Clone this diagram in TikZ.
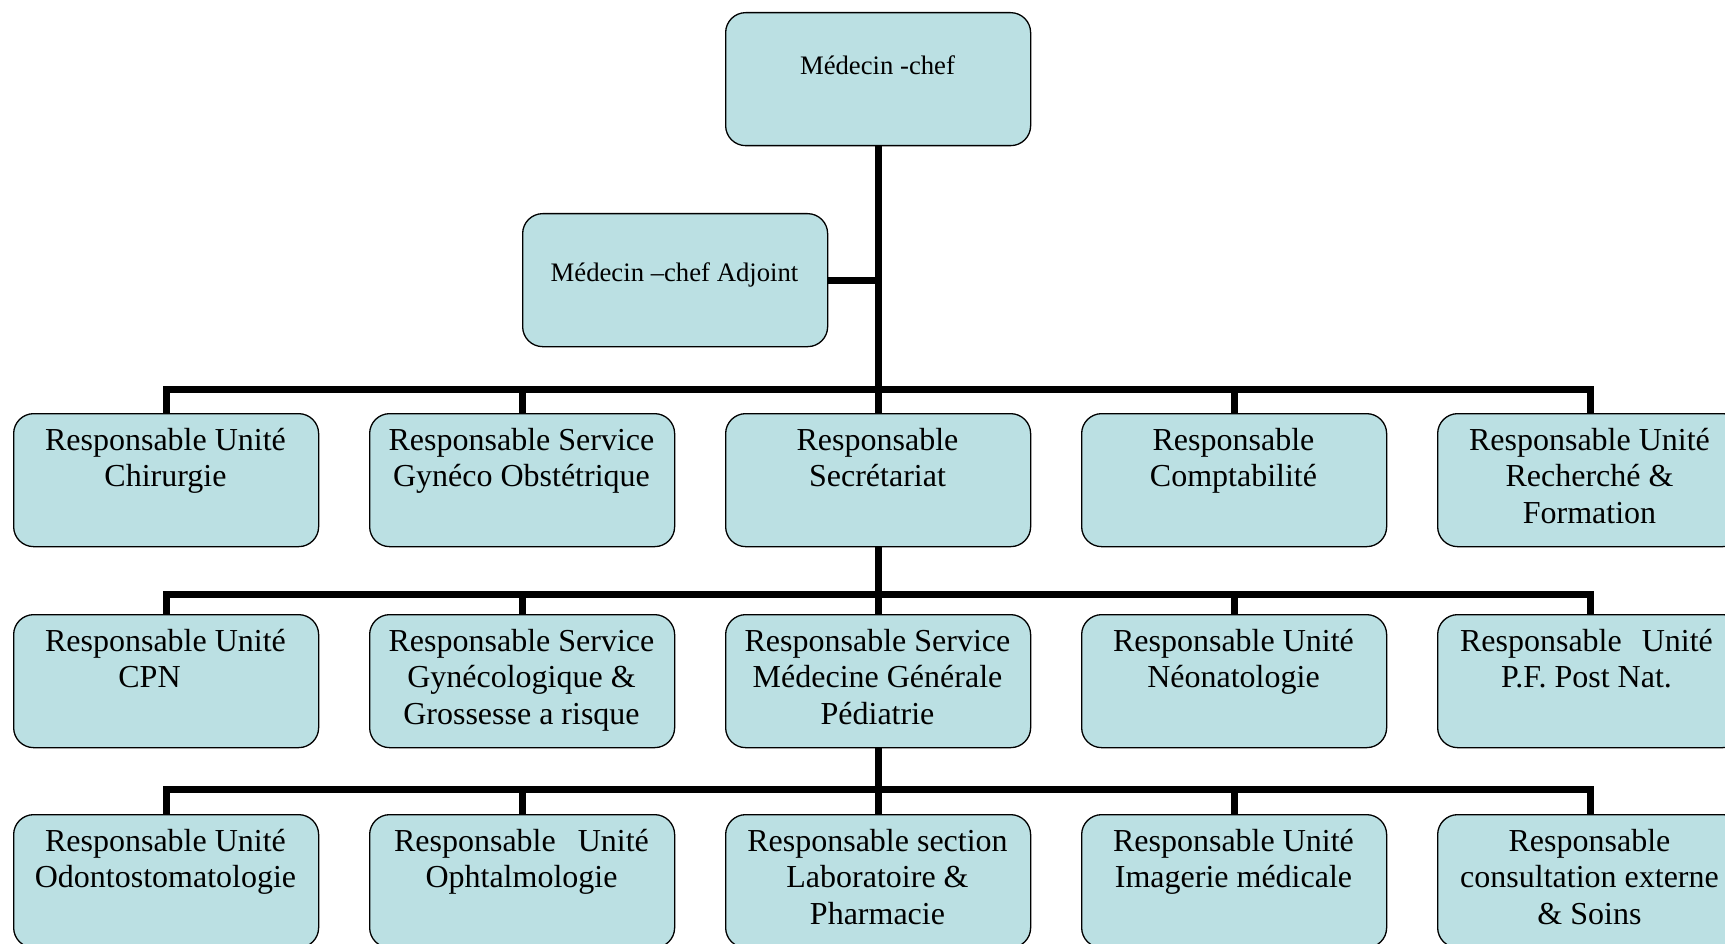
\documentclass[tikz,border=0pt]{standalone}
\usepackage{fontspec}
\setmainfont{Liberation Serif}
\definecolor{boxfill}{RGB}{187,224,227}
\newcommand{\firstln}{\rule{0pt}{25pt}}
\begin{document}
\begin{tikzpicture}[x=1pt,y=-1pt,
  orgbox/.style={draw=black, line width=1.3pt, fill=boxfill, rounded corners=20pt,
    minimum width=305pt, minimum height=133pt, inner sep=0pt, anchor=north west},
  bigtxt/.style={anchor=north, inner sep=0pt, align=center,
    font=\fontsize{32}{36.6}\selectfont},
  smalltxt/.style={anchor=base, inner sep=0pt, font=\fontsize{26.7}{30}\selectfont},
  link/.style={line width=7pt, line join=miter}]
\useasboundingbox (0,0) rectangle (1725,944);
\clip (0,0) rectangle (1725,944);
% top
\node[orgbox] (chef) at (725,12) {};
\node[orgbox] (adj) at (522,213) {};
\node[smalltxt] (chefT) at (877.5,75) {Médecin -chef};
\node[smalltxt] (adjT) at (674.5,281) {Médecin –chef Adjoint};
% row 1
\node[orgbox] (chir) at (13,413) {};
\node[orgbox] (gyn) at (369,413) {};
\node[orgbox] (sec) at (725,413) {};
\node[orgbox] (comp) at (1081,413) {};
\node[orgbox] (rech) at (1437,413) {};
\node[bigtxt] (chirT) at (165.5,425) {\firstln Responsable Unité\\Chirurgie};
\node[bigtxt] (gynT) at (521.5,425) {\firstln Responsable Service\\Gynéco Obstétrique};
\node[bigtxt] (secT) at (877.5,425) {\firstln Responsable\\Secrétariat};
\node[bigtxt] (compT) at (1233.5,425) {\firstln Responsable\\Comptabilité};
\node[bigtxt] (rechT) at (1589.5,425) {\firstln Responsable Unité\\Recherché \&\\Formation};
% row 2
\node[orgbox] (cpn) at (13,614) {};
\node[orgbox] (gros) at (369,614) {};
\node[orgbox] (ped) at (725,614) {};
\node[orgbox] (neo) at (1081,614) {};
\node[orgbox] (pf) at (1437,614) {};
\node[bigtxt] (cpnT) at (165.5,626) {\firstln Responsable Unité\\CPN\hspace*{32pt}};
\node[bigtxt] (grosT) at (521.5,626) {\firstln Responsable Service\\Gynécologique \&\\Grossesse a risque};
\node[bigtxt] (pedT) at (877.5,626) {\firstln Responsable Service\\Médecine Générale\\Pédiatrie};
\node[bigtxt] (neoT) at (1233.5,626) {\firstln Responsable Unité\\Néonatologie};
\node[bigtxt] (pfT) at (1586.5,626) {\firstln Responsable\hspace{20pt}Unité\\P.F. Post Nat.};
% row 3
\node[orgbox] (odo) at (13,814) {};
\node[orgbox] (oph) at (369,814) {};
\node[orgbox] (lab) at (725,814) {};
\node[orgbox] (ima) at (1081,814) {};
\node[orgbox] (cons) at (1437,814) {};
\node[bigtxt] (odoT) at (165.5,826) {\firstln Responsable Unité\\Odontostomatologie};
\node[bigtxt] (ophT) at (521.5,826) {\firstln Responsable\hspace{22pt}Unité\\Ophtalmologie};
\node[bigtxt] (labT) at (877.5,826) {\firstln Responsable section\\Laboratoire \&\\Pharmacie};
\node[bigtxt] (imaT) at (1233.5,826) {\firstln Responsable Unité\\Imagerie médicale};
\node[bigtxt] (consT) at (1589.5,826) {\firstln Responsable\\consultation externe\\\& Soins};
% connectors
\coordinate (bus1) at (0,389);
\coordinate (bus2) at (0,594);
\coordinate (bus3) at (0,789);
\draw[link] (chef.south) -- (sec.north);
\draw[link] (adj.east) -- (adj.east -| chef.south);
\draw[link] (chir.north) |- (rech.north |- bus1) -- (rech.north);
\draw[link] (gyn.north) -- (gyn.north |- bus1);
\draw[link] (comp.north) -- (comp.north |- bus1);
\draw[link] (sec.south) -- (ped.north);
\draw[link] (cpn.north) |- (pf.north |- bus2) -- (pf.north);
\draw[link] (gros.north) -- (gros.north |- bus2);
\draw[link] (neo.north) -- (neo.north |- bus2);
\draw[link] (ped.south) -- (lab.north);
\draw[link] (odo.north) |- (cons.north |- bus3) -- (cons.north);
\draw[link] (oph.north) -- (oph.north |- bus3);
\draw[link] (ima.north) -- (ima.north |- bus3);
\end{tikzpicture}
\end{document}
